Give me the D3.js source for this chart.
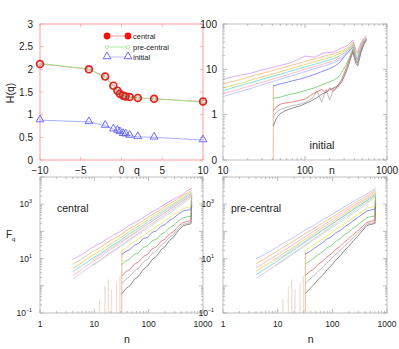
<!DOCTYPE html>
<html><head><meta charset="utf-8">
<script src="https://cdn.jsdelivr.net/npm/d3@7"></script>
<style>
body{margin:0;background:#fff}
svg{display:block}
text{font-family:"Liberation Sans",Arial,Helvetica,sans-serif;fill:#222}
</style>
</head><body>
<svg id="c" width="399" height="349"></svg>
<script>
// ---------------- DATA ----------------
// Panel (a): generalized Hurst exponent H(q)
const qValues      = [-10, -4, -2, -1, -0.5, -0.2, 0.2, 0.5, 1, 2, 4, 10];
const hCentral     = [2.12, 2.00, 1.84, 1.64, 1.53, 1.46, 1.42, 1.40, 1.39, 1.37, 1.35, 1.29];
const hPreCentral  = [2.13, 2.01, 1.82, 1.62, 1.52, 1.45, 1.41, 1.39, 1.38, 1.37, 1.35, 1.28];
const hInitial     = [0.88, 0.84, 0.76, 0.68, 0.65, 0.62, 0.58, 0.57, 0.54, 0.51, 0.50, 0.44];
const legendLabels = ["central", "pre-central", "initial"];
const qTicks = [-10, -5, 0, 5, 10];
const hTicks = [0, 0.5, 1, 1.5, 2, 2.5, 3];

// Panel (b): "initial" fluctuation functions
const initTickLabels = [[100, "100"], [10, "10"], [1, "1"], [0.1, "0"]];
const nInitUpper = [10, 13, 17, 22, 28, 36, 46, 60, 78, 100, 130, 170, 220, 260, 300, 340, 383, 420, 440, 480, 520, 560];
const initUpperPurple = [6.0, 6.8, 7.6, 8.2, 9.5, 10.4, 11.8, 13.2, 15.8, 19.6, 18.5, 23, 24, 28, 31, 35, 44, 26, 24, 38, 48, 56];
const initUpperOrange = [4.7, 5.4, 6.1, 7.0, 7.9, 8.9, 10.1, 11.5, 13.1, 14.9, 16.9, 19.3, 22, 24, 27, 31, 40, 24, 23, 35, 45, 52];
const initUpperYellow = [3.9, 4.4, 5.0, 5.8, 6.6, 7.5, 8.5, 9.8, 11.2, 12.8, 14.6, 16.7, 19.2, 22, 25, 29, 37, 22, 21, 33, 43, 50];
const initUpperTeal   = [3.4, 3.9, 4.5, 5.1, 5.8, 6.6, 7.5, 8.6, 9.9, 11.3, 12.9, 14.8, 17, 19.5, 23, 27, 35, 20, 19, 31, 42, 49];
const initUpperPink   = [2.9, 3.3, 3.8, 4.4, 5.0, 5.7, 6.5, 7.5, 8.7, 10, 11.5, 13.2, 15.2, 17.5, 21, 25, 33, 18, 17, 29, 40, 48];
const initUpperLBlue  = [2.5, 2.9, 3.3, 3.8, 4.4, 5.0, 5.8, 6.7, 7.7, 8.9, 10.3, 11.9, 13.8, 16, 19, 23, 31, 17, 16, 28, 39, 47];
const nInitLower = [41, 45, 50, 56, 63, 71, 80, 90, 100, 112, 125, 140, 160, 180, 200, 225, 250, 280, 320, 383, 420, 440, 480, 520, 560];
const initLowerBlue  = [4.3, 4.5, 4.8, 5.0, 5.3, 5.6, 5.9, 6.2, 6.6, 7.0, 7.5, 8.1, 8.9, 9.6, 10.4, 11.5, 13, 16, 22, 31, 18, 17, 28, 39, 47];
const initLowerGreen = [2.3, 2.35, 2.45, 2.6, 2.75, 2.9, 3.0, 3.2, 3.4, 3.6, 3.8, 4.1, 4.5, 4.9, 5.3, 5.8, 6.5, 8.5, 13, 28, 16, 15, 26, 38, 46];
const initLowerRed   = [1.2, 1.5, 1.7, 1.8, 1.85, 1.9, 2.0, 2.1, 2.2, 2.5, 2.9, 3.2, 3.6, 3.0, 3.9, 3.3, 4.3, 6, 11, 26, 15, 14, 25, 37, 45];
const initLowerGray  = [0.9, 1.15, 1.3, 1.4, 1.5, 1.6, 1.65, 1.75, 1.85, 2.1, 2.4, 3.3, 1.9, 3.6, 2.1, 3.8, 3.9, 5.5, 10, 25, 14, 13, 24, 36, 44];
const initLowerBlack = [0.56, 0.85, 1.05, 1.2, 1.3, 1.4, 1.5, 1.6, 1.75, 1.9, 2.1, 2.4, 2.8, 3.1, 3.5, 3.9, 4.3, 5.2, 9, 24, 13, 12, 23, 35, 43];
const nInitVertical = [41, 41.05];
const initVertical  = [0.01, 4.6];

// Panels (c),(d): "central" and "pre-central"
const nUpper = [4, 6, 9, 13, 20, 30, 45, 65, 100, 150, 220, 320, 430, 520, 620];
const centralUpper1 = [9.3, 14.5, 25, 37, 64, 100, 170, 250, 440, 690, 1150, 1700, 2300, 3200, 3800];
const centralUpper2 = [6.2, 10, 17.5, 26, 47, 74, 128, 195, 345, 560, 930, 1430, 2100, 2600, 3300];
const centralUpper3 = [4.4, 7.2, 12.8, 19.5, 35, 57, 101, 155, 280, 460, 780, 1210, 1800, 2300, 2900];
const centralUpper4 = [3.3, 5.5, 9.9, 15.3, 28, 46, 83, 129, 236, 392, 670, 1070, 1600, 2050, 2600];
const centralUpper5 = [2.4, 4.1, 7.4, 11.6, 21.8, 36.5, 66, 104, 194, 328, 570, 920, 1390, 1800, 2300];
const centralUpper6 = [1.8, 3.1, 5.7, 9.0, 17.2, 29, 53, 85, 160, 274, 480, 790, 1200, 1560, 2000];
const nMid = [9, 13, 20, 30, 45, 65, 100, 150, 220, 320, 430, 520, 620];
const centralMid1 = [8.4, 13.5, 24, 41, 70, 112, 198, 335, 560, 920, 1350, 1750, 2200];
const centralMid2 = [5.2, 8.6, 15.5, 27, 47, 77, 138, 240, 410, 690, 1050, 1400, 1850];
const nLower = [32, 38, 45, 55, 65, 80, 95, 115, 140, 170, 200, 240, 290, 350, 430, 500, 600, 620];
const centralLowerYellow = [20, 24, 33, 41, 54, 68, 90, 113, 155, 192, 250, 310, 420, 520, 700, 760, 800, 2600];
const centralLowerBlue   = [14, 18.5, 21.5, 31, 36, 55, 60, 92, 105, 155, 180, 250, 310, 430, 560, 600, 640, 2200];
const centralLowerGreen  = [6, 8.2, 9.6, 14.5, 16.5, 26, 29, 45, 52, 80, 92, 135, 165, 240, 315, 340, 360, 1700];
const centralLowerRed    = [2.3, 3.3, 3.9, 6.3, 7.4, 12, 14.2, 22.5, 27.5, 44, 52, 80, 100, 155, 210, 230, 245, 1300];
const centralLowerGray   = [1.2, 1.75, 2.2, 3.6, 4.4, 7.4, 9.2, 14.8, 19.5, 31, 39, 61, 80, 126, 180, 195, 210, 1100];
const centralLowerBlack  = [0.5, 0.78, 1.0, 1.75, 2.25, 4.0, 5.3, 9.0, 12.4, 21.5, 27.5, 46, 63, 106, 160, 175, 190, 950];

const preUpper1 = [9.6, 15, 24, 38, 62, 104, 165, 260, 430, 710, 1120, 1750, 2400, 3100, 3900];
const preUpper2 = [6.5, 10.4, 17, 27, 45, 77, 124, 200, 335, 570, 910, 1450, 2050, 2650, 3400];
const preUpper3 = [4.6, 7.5, 12.4, 20, 34, 59, 98, 160, 272, 470, 760, 1230, 1750, 2350, 3000];
const preUpper4 = [3.4, 5.7, 9.6, 15.8, 27, 48, 80, 133, 230, 400, 655, 1090, 1560, 2100, 2650];
const preUpper5 = [2.5, 4.3, 7.2, 12, 21, 37.5, 64, 107, 188, 335, 560, 940, 1350, 1850, 2350];
const preUpper6 = [1.85, 3.2, 5.5, 9.3, 16.8, 30, 52, 88, 157, 280, 470, 800, 1170, 1600, 2050];
const preMid1 = [8.6, 13.2, 24.5, 40, 71, 110, 200, 330, 565, 910, 1360, 1760, 2250];
const preMid2 = [5.4, 8.4, 15.8, 26.5, 48, 76, 140, 236, 415, 680, 1060, 1420, 1900];
const preLowerYellow = [21, 25, 32, 42, 52, 70, 88, 116, 150, 196, 245, 318, 410, 530, 710, 770, 820, 2700];
const preLowerBlue   = [14.5, 18, 22.5, 30, 37.5, 53, 62, 89, 108, 150, 185, 245, 320, 420, 570, 610, 650, 2300];
const preLowerGreen  = [6.3, 7.9, 10.1, 14, 17.2, 25, 30, 43, 54, 78, 95, 130, 170, 235, 320, 345, 365, 1750];
const preLowerRed    = [2.4, 3.2, 4.1, 6, 7.8, 11.5, 14.8, 21.5, 28.5, 42, 54, 78, 103, 150, 215, 235, 250, 1350];
const preLowerGray   = [1.25, 1.7, 2.3, 3.45, 4.6, 7.1, 9.6, 14.3, 20.2, 30, 40.5, 59, 82, 122, 185, 200, 215, 1150];
const preLowerBlack  = [0.52, 0.75, 1.05, 1.7, 2.35, 3.85, 5.5, 8.7, 12.9, 20.8, 28.5, 44.5, 65, 103, 165, 180, 195, 1000];

const nSpike = [12.2, 12.4, 12.6, 15.5, 15.7, 15.9, 17.9, 18.1, 18.3, 20.6, 20.8, 21, 25.4, 25.7, 26, 29.3, 29.6, 29.9];
const spikeValues = [0.02, 0.32, 0.02, 0.02, 0.98, 0.02, 0.02, 1.7, 0.02, 0.02, 0.75, 0.02, 0.02, 1.3, 0.02, 0.02, 2.3, 0.02];
const nCentralVertical = [32, 32.05];
const centralVertical  = [0.01, 20];

const bottomYTickLabels = [[1000, "3"], [10, "1"], [0.1, "\u22121"]];
const bottomXTickLabels = [[1, "1"], [10, "10"], [100, "100"], [1000, "1000"]];
const topXTickLabels = [[10, "10"], [100, "100"], [1000, "1000"]];

// ---------------- DRAWING ----------------
const svg = d3.select("#c");
const C = {
  purple: "#c985f5", orange: "#f5aa5a", gold: "#d8c840", teal: "#55cdc3", pink: "#ff9cbc",
  lblue: "#a2adff", lav: "#d0aeec", yellow: "#e8df40", blue: "#4d56ef", green: "#48c048",
  red: "#ea4a4a", gray: "#a0a0a0", black: "#555555", tan: "#efd2c2", vorange: "#dca060",
  lgray: "#c8c8c8", lgreen: "#b0dca8"
};

function logTickVals(dom) {
  const lo = Math.log10(dom[0]), hi = Math.log10(dom[1]);
  const major = [], minor = [];
  for (let e = Math.floor(lo); e <= Math.ceil(hi); e++) {
    const b = Math.pow(10, e);
    if (b >= dom[0] * 0.999 && b <= dom[1] * 1.001) major.push(b);
    for (let k = 2; k <= 9; k++) {
      const v = k * b;
      if (v > dom[0] && v < dom[1]) minor.push(v);
    }
  }
  return {major, minor};
}

function drawTicks(g, x, y, xt, yt, color) {
  const [x0, x1] = x.range(), [y0, y1] = y.range();
  const tk = g.append("g").attr("stroke", color).attr("stroke-width", 0.8);
  const seg = (a, b, c, d) => tk.append("line").attr("x1", a).attr("y1", b).attr("x2", c).attr("y2", d);
  xt.major.forEach(v => { const px = x(v); seg(px, y0, px, y0 - 4); seg(px, y1, px, y1 + 4); });
  xt.minor.forEach(v => { const px = x(v); seg(px, y0, px, y0 - 2); seg(px, y1, px, y1 + 2); });
  yt.major.forEach(v => { const py = y(v); seg(x0, py, x0 + 4, py); seg(x1, py, x1 - 4, py); });
  yt.minor.forEach(v => { const py = y(v); seg(x0, py, x0 + 2, py); seg(x1, py, x1 - 2, py); });
}

function drawLogPanel(cfg) {
  const g = svg.append("g");
  const x = d3.scaleLog().domain(cfg.xDom).range([cfg.left, cfg.left + cfg.width]);
  const y = d3.scaleLog().domain(cfg.yDom).range([cfg.top + cfg.height, cfg.top]);
  const clipId = cfg.id + "clip";
  svg.append("clipPath").attr("id", clipId).append("rect")
    .attr("x", cfg.left).attr("y", cfg.top).attr("width", cfg.width).attr("height", cfg.height);
  const line = d3.line().x(d => x(d[0])).y(d => y(d[1]));
  const pl = g.append("g").attr("clip-path", `url(#${clipId})`);
  cfg.series.forEach(s => {
    pl.append("path").datum(s.n.map((nv, i) => [nv, s.v[i]]))
      .attr("d", line).attr("fill", "none").attr("stroke", s.c)
      .attr("stroke-width", s.w || 0.8).attr("stroke-opacity", 0.85).attr("stroke-linejoin", "round");
  });
  g.append("rect").attr("x", cfg.left).attr("y", cfg.top).attr("width", cfg.width).attr("height", cfg.height)
    .attr("fill", "none").attr("stroke", "#b8b8b8").attr("stroke-width", 0.9);
  drawTicks(g, x, y, logTickVals(cfg.xDom), logTickVals(cfg.yDom), "#aaaaaa");
  return {g, x, y};
}

function supLabel(parent, xPos, yPos, base, exp, size) {
  const t = parent.append("text").attr("x", xPos).attr("y", yPos).attr("text-anchor", "end")
    .attr("font-size", size);
  t.append("tspan").text(base);
  t.append("tspan").attr("dy", -size * 0.45).attr("font-size", size * 0.62).text(exp);
  return t;
}

// ---- Panel (a): H(q)
{
  const g = svg.append("g");
  const x = d3.scaleLinear().domain([-10, 10]).range([40, 203]);
  const y = d3.scaleLinear().domain([0, 3]).range([160, 24]);
  const pink = "#ff9c9c";
  g.append("rect").attr("x", 40).attr("y", 24).attr("width", 163).attr("height", 136)
    .attr("fill", "none").attr("stroke", pink).attr("stroke-width", 1);
  const tk = g.append("g").attr("stroke", pink).attr("stroke-width", 0.8);
  qTicks.forEach(v => {
    tk.append("line").attr("x1", x(v)).attr("x2", x(v)).attr("y1", 160).attr("y2", 157);
    tk.append("line").attr("x1", x(v)).attr("x2", x(v)).attr("y1", 24).attr("y2", 27);
  });
  hTicks.forEach(v => {
    tk.append("line").attr("x1", 40).attr("x2", 43).attr("y1", y(v)).attr("y2", y(v));
    tk.append("line").attr("x1", 203).attr("x2", 200).attr("y1", y(v)).attr("y2", y(v));
  });
  qTicks.forEach(v => g.append("text").attr("x", x(v)).attr("y", 173.5).attr("text-anchor", "middle")
    .attr("font-size", 10).text(v < 0 ? "\u2212" + Math.abs(v) : v));
  hTicks.forEach(v => g.append("text").attr("x", 33).attr("y", y(v) + 3.5).attr("text-anchor", "end")
    .attr("font-size", 10).text(v));
  g.append("text").attr("x", 137).attr("y", 174).attr("text-anchor", "middle").attr("font-size", 10.5).text("q");
  g.append("text").attr("transform", "translate(14,93) rotate(-90)").attr("text-anchor", "middle")
    .attr("font-size", 10.5).text("H(q)");

  const line = d3.line().x((d, i) => x(qValues[i])).y(d => y(d));
  g.append("path").datum(hCentral).attr("d", line).attr("fill", "none").attr("stroke", "#ffa0a0").attr("stroke-width", 0.8);
  g.append("path").datum(hPreCentral).attr("d", line).attr("fill", "none").attr("stroke", "#9be08e").attr("stroke-width", 1);
  g.append("path").datum(hInitial).attr("d", line).attr("fill", "none").attr("stroke", "#a8b0ff").attr("stroke-width", 1);
  const tri = d3.symbol().type(d3.symbolTriangle).size(26);
  hInitial.forEach((v, i) => g.append("path").attr("d", tri())
    .attr("transform", `translate(${x(qValues[i])},${y(v) - 0.5})`)
    .attr("fill", "none").attr("stroke", "#5f5fff").attr("stroke-width", 0.9));
  hCentral.forEach((v, i) => g.append("circle").attr("cx", x(qValues[i])).attr("cy", y(v)).attr("r", 3.4)
    .attr("fill", "none").attr("stroke", "#e5201a").attr("stroke-width", 1.7));
  hPreCentral.forEach((v, i) => g.append("circle").attr("cx", x(qValues[i])).attr("cy", y(v)).attr("r", 2)
    .attr("fill", "none").attr("stroke", "#6a5a40").attr("stroke-width", 0.6).attr("opacity", 0.6));

  // legend
  const lx0 = 107, lx1 = 128, tx = 133;
  const rows = [36, 47, 57];
  g.append("line").attr("x1", lx0).attr("x2", lx1).attr("y1", rows[0]).attr("y2", rows[0]).attr("stroke", "#ff8080").attr("stroke-width", 0.8);
  [lx0, lx1].forEach(px => g.append("circle").attr("cx", px).attr("cy", rows[0]).attr("r", 3.4).attr("fill", "#ff1010"));
  g.append("line").attr("x1", lx0).attr("x2", lx1).attr("y1", rows[1]).attr("y2", rows[1]).attr("stroke", "#9be390").attr("stroke-width", 0.8);
  [lx0, lx1].forEach(px => g.append("circle").attr("cx", px).attr("cy", rows[1]).attr("r", 1.7).attr("fill", "#fff").attr("stroke", "#9be390").attr("stroke-width", 0.7));
  g.append("line").attr("x1", lx0).attr("x2", lx1).attr("y1", rows[2]).attr("y2", rows[2]).attr("stroke", "#a3acff").attr("stroke-width", 0.8);
  [lx0, lx1].forEach(px => g.append("path").attr("d", tri()).attr("transform", `translate(${px},${rows[2] - 0.5})`)
    .attr("fill", "#fff").attr("stroke", "#5b5bff").attr("stroke-width", 0.9));
  legendLabels.forEach((t, i) => g.append("text").attr("x", tx).attr("y", rows[i] + 2.6).attr("font-size", 7.5).text(t));
}

// ---- Panel (b): initial
{
  const P = drawLogPanel({
    id: "init", left: 223, top: 24, width: 164, height: 136, xDom: [10, 1000], yDom: [0.1, 100],
    series: [
      {n: nInitVertical, v: initVertical, c: C.vorange},
      {n: nInitLower, v: initLowerBlack, c: C.black},
      {n: nInitLower, v: initLowerGray, c: C.gray},
      {n: nInitLower, v: initLowerRed, c: C.red},
      {n: nInitLower, v: initLowerGreen, c: C.green},
      {n: nInitLower, v: initLowerBlue, c: C.blue},
      {n: nInitUpper, v: initUpperLBlue, c: C.lblue},
      {n: nInitUpper, v: initUpperPink, c: C.pink},
      {n: nInitUpper, v: initUpperTeal, c: C.teal},
      {n: nInitUpper, v: initUpperYellow, c: C.gold},
      {n: nInitUpper, v: initUpperOrange, c: C.orange},
      {n: nInitUpper, v: initUpperPurple, c: C.purple}
    ]
  });
  initTickLabels.forEach(([v, t]) => svg.append("text").attr("x", 217).attr("y", P.y(v) + 3.5)
    .attr("text-anchor", "end").attr("font-size", 10).text(t));
  topXTickLabels.forEach(([v, t]) => svg.append("text").attr("x", P.x(v)).attr("y", 173.5)
    .attr("text-anchor", "middle").attr("font-size", 10).text(t));
  svg.append("text").attr("x", 332).attr("y", 174).attr("text-anchor", "middle").attr("font-size", 10.5).text("n");
  svg.append("text").attr("x", 322).attr("y", 149).attr("text-anchor", "middle").attr("font-size", 11).text("initial");
}

// ---- Panels (c),(d)
function bottomPanel(id, left, label, up, mid, low, upColors) {
  const series = [
    {n: nSpike, v: spikeValues, c: C.tan, w: 0.7},
    {n: nCentralVertical, v: centralVertical, c: C.vorange},
    {n: nLower, v: low[5], c: C.black},
    {n: nLower, v: low[4], c: C.gray},
    {n: nLower, v: low[3], c: C.red},
    {n: nLower, v: low[2], c: C.green},
    {n: nLower, v: low[1], c: C.blue},
    {n: nLower, v: low[0], c: C.yellow},
    {n: nMid, v: mid[0], c: C.lgray},
    {n: nMid, v: mid[1], c: C.lgreen}
  ];
  up.slice().reverse().forEach((v, i) => series.push({n: nUpper, v: v, c: upColors[up.length - 1 - i]}));
  const P = drawLogPanel({id, left, top: 177, width: (left === 40 ? 163 : 164), height: 136,
    xDom: [1, 1000], yDom: [0.1, 10000], series});
  const lx = left === 40 ? 32 : 214;
  bottomYTickLabels.forEach(([v, e]) => supLabel(svg, lx, P.y(v) + 3, "10", e, 8.5));
  bottomXTickLabels.forEach(([v, t]) => svg.append("text").attr("x", P.x(v)).attr("y", 327)
    .attr("text-anchor", "middle").attr("font-size", 8.5).text(t));
  svg.append("text").attr("x", P.x(40)).attr("y", 343).attr("text-anchor", "middle").attr("font-size", 10.5).text("n");
  svg.append("text").attr("x", left + (left === 40 ? 17 : 8)).attr("y", 212).attr("font-size", 10.5).text(label);
}
bottomPanel("cen", 40, "central",
  [centralUpper1, centralUpper2, centralUpper3, centralUpper4, centralUpper5, centralUpper6],
  [centralMid1, centralMid2],
  [centralLowerYellow, centralLowerBlue, centralLowerGreen, centralLowerRed, centralLowerGray, centralLowerBlack],
  [C.purple, C.orange, C.gold, C.teal, C.pink, C.lav]);
bottomPanel("pre", 223, "pre-central",
  [preUpper1, preUpper2, preUpper3, preUpper4, preUpper5, preUpper6],
  [preMid1, preMid2],
  [preLowerYellow, preLowerBlue, preLowerGreen, preLowerRed, preLowerGray, preLowerBlack],
  [C.lblue, C.orange, C.pink, C.gold, C.teal, C.lav]);

// F_q label
{
  const t = svg.append("text").attr("x", 6).attr("y", 238).attr("font-size", 10);
  t.append("tspan").text("F");
  t.append("tspan").attr("dy", 2.5).attr("font-size", 6).text("q");
}
</script>
</body></html>
